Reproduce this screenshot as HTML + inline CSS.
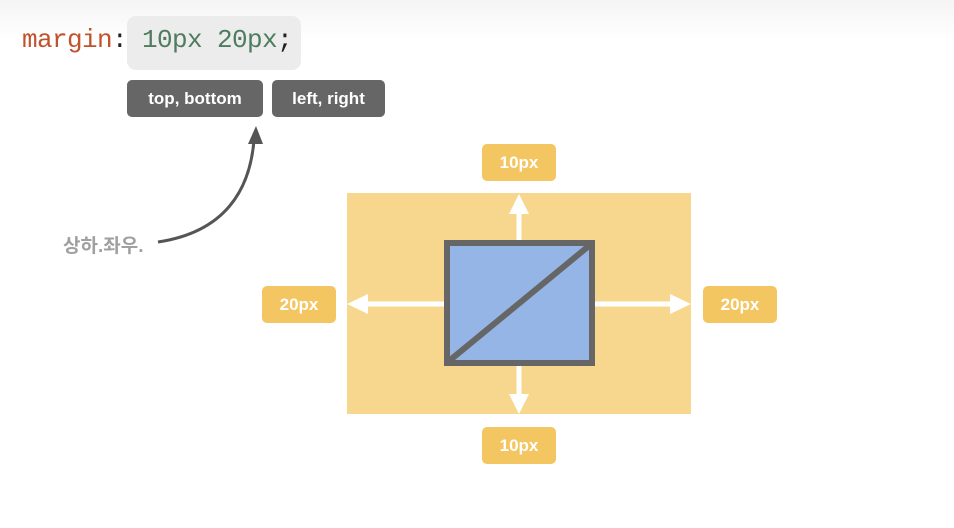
<!DOCTYPE html>
<html><head><meta charset="utf-8"><style>
body{margin:0;width:954px;height:528px;background:#fff;overflow:hidden;position:relative;font-family:"Liberation Sans","Noto Sans CJK KR",sans-serif}
.abs{position:absolute}
.tag{position:absolute;background:#666;color:#fff;border-radius:5px;font-weight:bold;font-size:17px;display:flex;align-items:center;justify-content:center}
.lab{position:absolute;background:#f3c661;color:#fff;border-radius:5px;font-weight:bold;font-size:17px;display:flex;align-items:center;justify-content:center;width:74px;height:37px}
</style></head><body>
<div class="abs" style="left:0;top:0;width:954px;height:40px;background:linear-gradient(#f5f5f5,#fff)"></div>
<div class="abs" style="left:127px;top:16px;width:174px;height:54px;background:#ececec;border-radius:9px"></div>
<div class="abs" style="left:22px;top:25px;font-family:'Liberation Mono',monospace;font-size:26px;white-space:pre;letter-spacing:-0.6px"><span style="color:#c0532e">margin</span><span style="color:#222">: </span><span style="color:#4e7c5e">10px 20px</span><span style="color:#222">;</span></div>
<div class="tag" style="left:127px;top:80px;width:136px;height:37px">top, bottom</div>
<div class="tag" style="left:272px;top:80px;width:113px;height:37px">left, right</div>
<div class="abs" style="left:63px;top:231px;color:#a0a0a0;font-size:19px;font-weight:bold">상하.좌우.</div>
<svg class="abs" style="left:0;top:0" width="954" height="528">
<path d="M158 242 C 225 232, 250 190, 254 140" fill="none" stroke="#555" stroke-width="3"/>
<polygon points="256,126 248,144 263,144" fill="#555"/>
<rect x="347" y="193" width="344" height="221" fill="#f7d78d"/>
<rect x="447" y="243" width="145" height="120" fill="#94b5e6" stroke="#666" stroke-width="6"/>
<line x1="449" y1="361" x2="590" y2="245" stroke="#666" stroke-width="6"/>
<g fill="#fff" stroke="#fff" stroke-width="5">
<line x1="519" y1="240" x2="519" y2="210"/><polygon stroke="none" points="519,194 509,214 529,214"/>
<line x1="519" y1="366" x2="519" y2="398"/><polygon stroke="none" points="519,414 509,394 529,394"/>
<line x1="444" y1="304" x2="362" y2="304"/><polygon stroke="none" points="347,304 368,294 368,314"/>
<line x1="595" y1="304" x2="676" y2="304"/><polygon stroke="none" points="691,304 670,294 670,314"/>
</g>
</svg>
<div class="lab" style="left:482px;top:144px">10px</div>
<div class="lab" style="left:482px;top:427px">10px</div>
<div class="lab" style="left:262px;top:286px">20px</div>
<div class="lab" style="left:703px;top:286px">20px</div>
</body></html>
